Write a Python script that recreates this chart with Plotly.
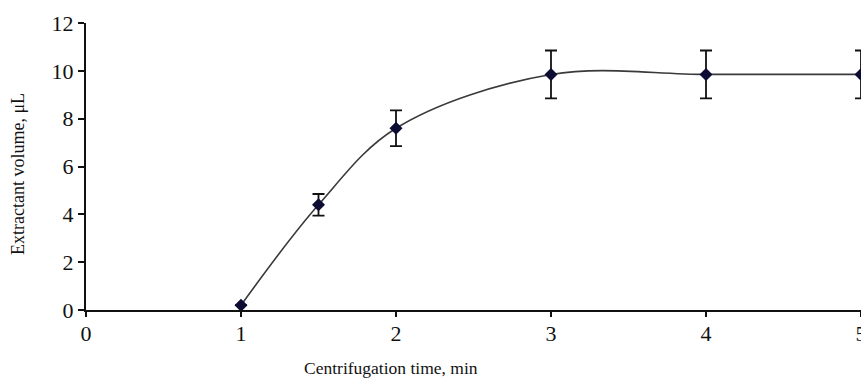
import plotly.graph_objects as go

time_min = [1, 1.5, 2, 3, 4, 5]
volume_ul = [0.2, 4.4, 7.6, 9.85, 9.85, 9.85]
error_ul = [0.0, 0.45, 0.75, 1.0, 1.0, 1.0]
x_ticks = [0, 1, 2, 3, 4, 5]
y_ticks = [0, 2, 4, 6, 8, 10, 12]

fig = go.Figure()
fig.add_trace(go.Scatter(
    x=time_min, y=volume_ul,
    mode="lines+markers",
    line=dict(color="#3a3a3a", width=1.6, shape="spline", smoothing=1.0),
    marker=dict(symbol="diamond", size=10, color="#0d0d33"),
    error_y=dict(type="data", array=error_ul, visible=True, color="#111111", thickness=1.8, width=6),
    cliponaxis=False,
    showlegend=False,
))

font_family = "Liberation Serif, Times New Roman, serif"
fig.update_layout(
    width=861, height=381,
    margin=dict(l=86, r=0, t=23, b=71),
    paper_bgcolor="white", plot_bgcolor="white",
    font=dict(family=font_family, color="#111111"),
    xaxis=dict(range=[0, 5], tickvals=x_ticks, showgrid=False, zeroline=False,
               showline=True, linecolor="#111111", linewidth=2,
               ticks="outside", ticklen=5, tickwidth=2, tickcolor="#111111",
               ticklabeloverflow="allow", automargin=False, ticklabelstandoff=-2,
               tickfont=dict(size=22, family=font_family)),
    yaxis=dict(range=[0, 12], tickvals=y_ticks, showgrid=False, zeroline=False,
               showline=True, linecolor="#111111", linewidth=2,
               ticks="outside", ticklen=6, tickwidth=2, tickcolor="#111111",
               automargin=False,
               tickfont=dict(size=22, family=font_family)),
    annotations=[
        dict(text="Centrifugation time, min", xref="paper", yref="paper",
             x=(391 - 86) / 775, y=-(368 - 310) / 287, xanchor="center", yanchor="middle",
             showarrow=False, font=dict(size=17.5, family=font_family)),
        dict(text="Extractant volume, μL", xref="paper", yref="paper",
             x=-(86 - 18) / 775, y=(310 - 174) / 287, xanchor="center", yanchor="middle",
             textangle=-90, showarrow=False, font=dict(size=18, family=font_family)),
    ],
)

fig.write_html("out.html")
